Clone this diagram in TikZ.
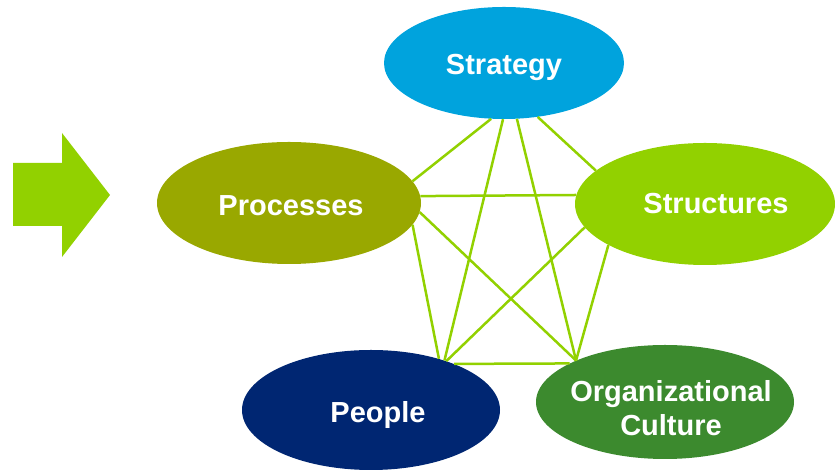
\documentclass[tikz,border=0pt]{standalone}
\usepackage{fontspec}
\setmainfont{Liberation Sans}
\usepackage{tikz}
\usetikzlibrary{shapes.geometric}

\definecolor{stratblue}{RGB}{0,163,221}
\definecolor{procolive}{RGB}{153,168,0}
\definecolor{structlime}{RGB}{146,209,0}
\definecolor{peoplenavy}{RGB}{0,38,114}
\definecolor{culturegreen}{RGB}{60,138,46}

\tikzset{
  blob/.style={ellipse, inner sep=0pt},
  txt/.style={text=white, inner sep=0pt, align=center,
    font=\bfseries\fontsize{29}{34}\selectfont},
  link/.style={structlime, line width=2.5pt}
}

\begin{document}
\begin{tikzpicture}[x=1pt,y=1pt]
    \useasboundingbox (0,0) rectangle (835,470);
    % arrow on the left
    \fill[structlime] (13,244) -- (13,307) -- (62,307) -- (62,337)
        -- (110,275) -- (62,213) -- (62,244) -- cycle;
    % the five ellipses
    \node[blob, fill=stratblue, minimum width=240pt, minimum height=112pt,
        label={[txt,yshift=-4pt]center:Strategy}] (strategy) at (504,407) {};
    \node[blob, fill=procolive, minimum width=264pt, minimum height=122pt,
        label={[txt,xshift=2pt,yshift=-3pt]center:Processes}] (processes) at (289,267) {};
    \node[blob, fill=structlime, minimum width=260pt, minimum height=122pt,
        label={[txt,xshift=11pt]center:Structures}] (structures) at (705,266) {};
    \node[blob, fill=peoplenavy, minimum width=258pt, minimum height=120pt,
        label={[txt,xshift=7pt,yshift=-5pt]center:People}] (people) at (371,60) {};
    \node[blob, fill=culturegreen, minimum width=258pt, minimum height=114pt,
        label={[txt,xshift=6pt,yshift=-6pt]center:Organizational\\Culture}] (culture) at (665,68) {};
    % links between them
    \draw[link] (strategy.-103) -- (processes.10.6);
    \draw[link] (strategy.-91) -- (people.34.4);
    \draw[link] (strategy.-77) -- (culture.155.7);
    \draw[link] (strategy.-58.5) -- (structures.163.6);
    \draw[link] (processes.3) -- (structures.176.5);
    \draw[link] (processes.-4) -- (culture.155.7);
    \draw[link] (processes.-10) -- (people.37.8);
    \draw[link] (structures.-169.3) -- (people.33.7);
    \draw[link] (structures.-157.1) -- (culture.155.7);
    \draw[link] (people.29.7) -- (culture.158.7);
\end{tikzpicture}
\end{document}
